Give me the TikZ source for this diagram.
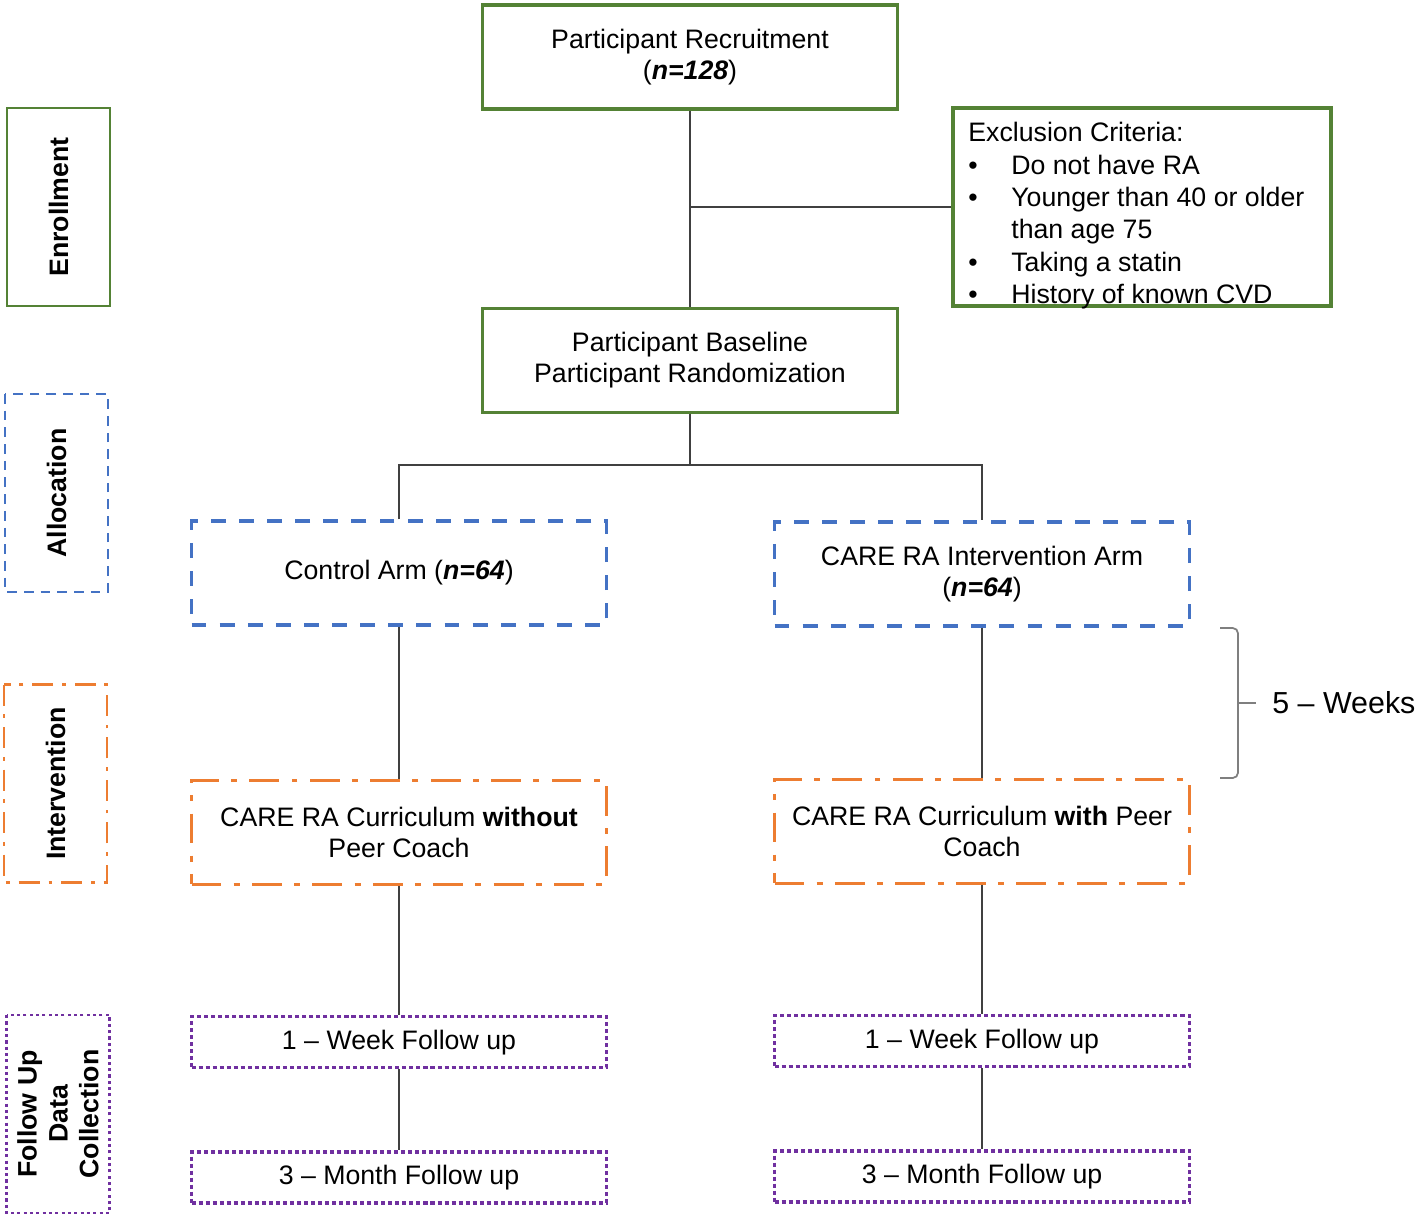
\documentclass[tikz,border=0pt]{standalone}
\usepackage{fontspec}
\setmainfont{Liberation Sans}
\usepackage{xcolor}
\usetikzlibrary{positioning}

\definecolor{boxgreen}{HTML}{548235}
\definecolor{boxblue}{HTML}{4472C4}
\definecolor{boxorange}{HTML}{ED7D31}
\definecolor{boxpurple}{HTML}{7030A0}
\definecolor{linkgray}{HTML}{404040}
\definecolor{bracegray}{HTML}{7F7F7F}

\newcommand{\critem}[1]{\makebox[0.86cm][l]{\textbullet}#1}

\begin{document}
\begin{tikzpicture}[
            x=0.02cm, y=-0.02cm,
            font=\fontsize{15.2}{17.6}\selectfont,
            phase/.style={rectangle, minimum width=8.3cm, minimum height=2.08cm, align=center, line width=1.9pt},
            greenbox/.style={phase, draw=boxgreen},
            bluebox/.style={phase, draw=boxblue, dash pattern=on 8.5pt off 7.5pt},
            orangebox/.style={phase, draw=boxorange, dash pattern=on 17pt off 7pt on 3.4pt off 7pt},
            purplebox/.style={phase, draw=boxpurple, minimum height=1.02cm, dash pattern=on 2.3pt off 1.7pt},
            stage/.style={rectangle, rotate=90, minimum width=3.96cm, minimum height=2.06cm, align=center, line width=1.5pt, font=\fontsize{15.2}{17.6}\selectfont\bfseries},
            link/.style={draw=linkgray, line width=0.8pt},
            bracestyle/.style={draw=bracegray, line width=1pt}
        ]
        \useasboundingbox (0,0) rectangle (1416,1218);

        % Stage labels
        \node[stage, draw=boxgreen] (enrollment) at (58.5,207) {Enrollment};
        \node[stage, draw=boxblue, dash pattern=on 5.5pt off 4pt] (allocation) at (56.5,493) {Allocation};
        \node[stage, draw=boxorange, dash pattern=on 12pt off 5pt on 2.2pt off 5pt] (intervention) at (55.5,783.5) {Intervention};
        \node[stage, draw=boxpurple, dash pattern=on 1.8pt off 1.8pt] (followup) at (58,1114) {Follow Up\\Data\\Collection};

        % Enrollment
        \node[greenbox] (recruit) at (690,57) {Participant Recruitment\\(\textbf{\textit{n=128}})};
        \node[greenbox, below=3.92cm of recruit] (baseline) {Participant Baseline\\Participant Randomization};
        \node[greenbox, minimum width=7.56cm, minimum height=3.96cm] (exclusion) at (1142,207) {};
        \node[anchor=north west, inner sep=0pt, align=left, font=\fontsize{15.2}{18.4}\selectfont] (exclusiontext) at (968,122) {Exclusion Criteria:\\
            \critem{Do not have RA}\\
            \critem{Younger than 40 or older}\\
            \hspace*{0.86cm}than age 75\\
            \critem{Taking a statin}\\
            \critem{History of known CVD}};

        % Arms
        \node[bluebox] (ctrlarm) at (399,573) {Control Arm (\textbf{\textit{n=64}})};
        \node[bluebox] (intarm) at (982,574) {CARE RA Intervention Arm\\(\textbf{\textit{n=64}})};

        \node[orangebox, below=3.04cm of ctrlarm] (ctrlcurr) {CARE RA Curriculum \textbf{without}\\Peer Coach};
        \node[orangebox, below=3.0cm of intarm] (intcurr) {CARE RA Curriculum \textbf{with} Peer\\Coach};

        \node[purplebox, below=2.58cm of ctrlcurr] (ctrlweek) {1 -- Week Follow up};
        \node[purplebox, below=2.58cm of intcurr] (intweek) {1 -- Week Follow up};
        \node[purplebox, below=1.62cm of ctrlweek] (ctrlmonth) {3 -- Month Follow up};
        \node[purplebox, below=1.62cm of intweek] (intmonth) {3 -- Month Follow up};

        % Connectors
        \coordinate (split) at (690,465);
        \draw[link] (recruit.south) -- (baseline.north);
        \draw[link] (exclusion.west) -- (exclusion.west -| recruit.south);
        \draw[link] (baseline.south) -- (split);
        \draw[link] (ctrlarm.north) |- (split) -| (intarm.north);
        \draw[link] (ctrlarm.south) -- (ctrlcurr.north);
        \draw[link] (intarm.south) -- (intcurr.north);
        \draw[link] (ctrlcurr.south) -- (ctrlweek.north);
        \draw[link] (intcurr.south) -- (intweek.north);
        \draw[link] (ctrlweek.south) -- (ctrlmonth.north);
        \draw[link] (intweek.south) -- (intmonth.north);

        % Duration brace
        \coordinate (bracetop) at (1220,628);
        \coordinate (bracebot) at (1220,778);
        \coordinate (bracetip) at (1256,703);
        \draw[bracestyle, rounded corners=3pt] (bracetop) -| (1238,703) |- (bracebot);
        \draw[bracestyle] (1238,703) -- (bracetip);
        \node[right=0.32cm of bracetip, inner sep=0pt, font=\fontsize{17.3}{20}\selectfont] (weeks) {5 -- Weeks};

    \end{tikzpicture}
\end{document}
